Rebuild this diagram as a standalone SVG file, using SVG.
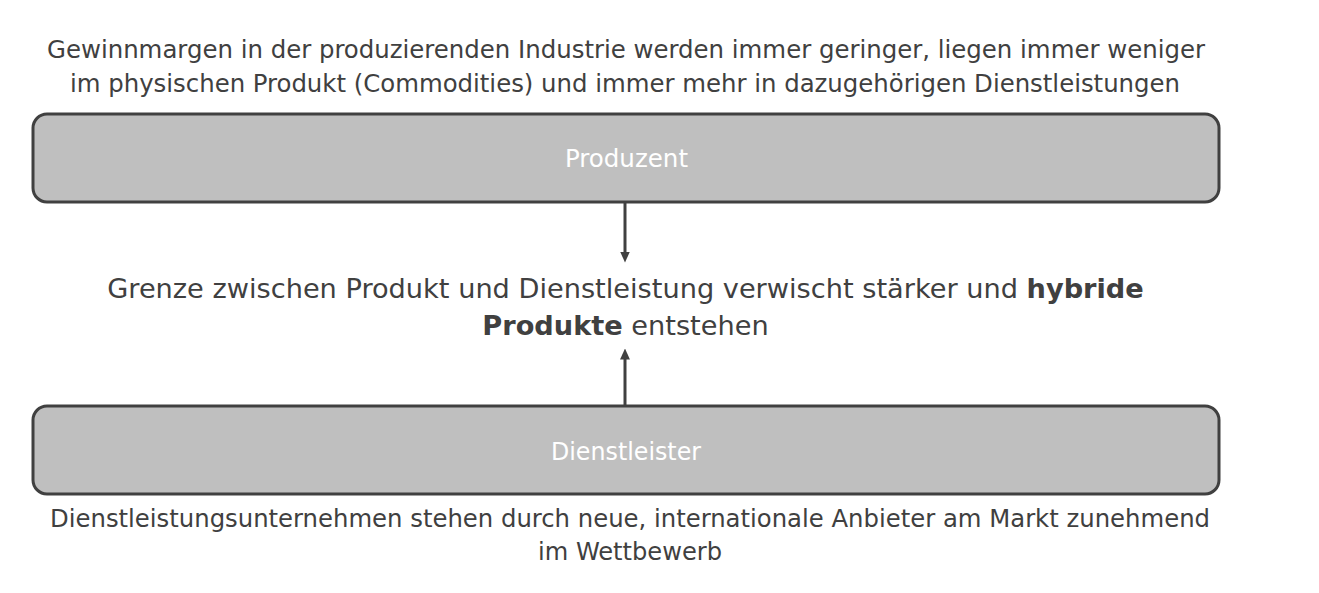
<svg xmlns="http://www.w3.org/2000/svg" width="1319" height="593" viewBox="0 0 1319 593">
<style>
.t{font-family:"DejaVu Sans Condensed","DejaVu Sans",sans-serif;font-size:25px;fill:#404040;text-anchor:middle}
.m{font-family:"DejaVu Sans",sans-serif;font-size:27.2px;fill:#404040;text-anchor:middle}
.box{fill:#bfbfbf;stroke:#404040;stroke-width:3}
.lbl{font-family:"DejaVu Sans Condensed","DejaVu Sans",sans-serif;font-size:25px;fill:#ffffff;text-anchor:middle}
.c{stroke:#404040;stroke-width:3;fill:none}
</style>
<defs>
<marker id="ah" markerWidth="11" markerHeight="11" refX="5" refY="5" orient="auto" markerUnits="userSpaceOnUse" viewBox="0 0 10 10">
<path d="M0,0.5 L10,5 L0,9.5 Z" fill="#404040"/>
</marker>
</defs>
<rect width="1319" height="593" fill="#ffffff"/>
<g id="top-text">
<text class="t" x="626" y="58" textLength="1158" lengthAdjust="spacingAndGlyphs">Gewinnmargen in der produzierenden Industrie werden immer geringer, liegen immer weniger</text>
<text class="t" x="625" y="92" textLength="1110" lengthAdjust="spacingAndGlyphs">im physischen Produkt (Commodities) und immer mehr in dazugehörigen Dienstleistungen</text>
</g>
<g id="produzent">
<rect class="box" x="33" y="114" width="1186" height="88" rx="14"/>
<text class="lbl" x="626.5" y="167" textLength="123" lengthAdjust="spacingAndGlyphs">Produzent</text>
</g>
<g id="mitte">
<text class="m" x="625.5" y="298">Grenze zwischen Produkt und Dienstleistung verwischt stärker und <tspan font-weight="bold">hybride</tspan></text>
<text class="m" x="625.5" y="335"><tspan font-weight="bold">Produkte</tspan> entstehen</text>
</g>
<g id="dienstleister">
<rect class="box" x="33" y="406" width="1186" height="88" rx="14"/>
<text class="lbl" x="626" y="460" textLength="150" lengthAdjust="spacingAndGlyphs">Dienstleister</text>
</g>
<g id="bottom-text">
<text class="t" x="630" y="527" textLength="1160" lengthAdjust="spacingAndGlyphs">Dienstleistungsunternehmen stehen durch neue, internationale Anbieter am Markt zunehmend</text>
<text class="t" x="630" y="560" textLength="184" lengthAdjust="spacingAndGlyphs">im Wettbewerb</text>
</g>
<g id="connectors">
<line class="c" x1="625" y1="202" x2="625" y2="257" marker-end="url(#ah)"/>
<line class="c" x1="625" y1="406" x2="625" y2="354" marker-end="url(#ah)"/>
</g>
</svg>
